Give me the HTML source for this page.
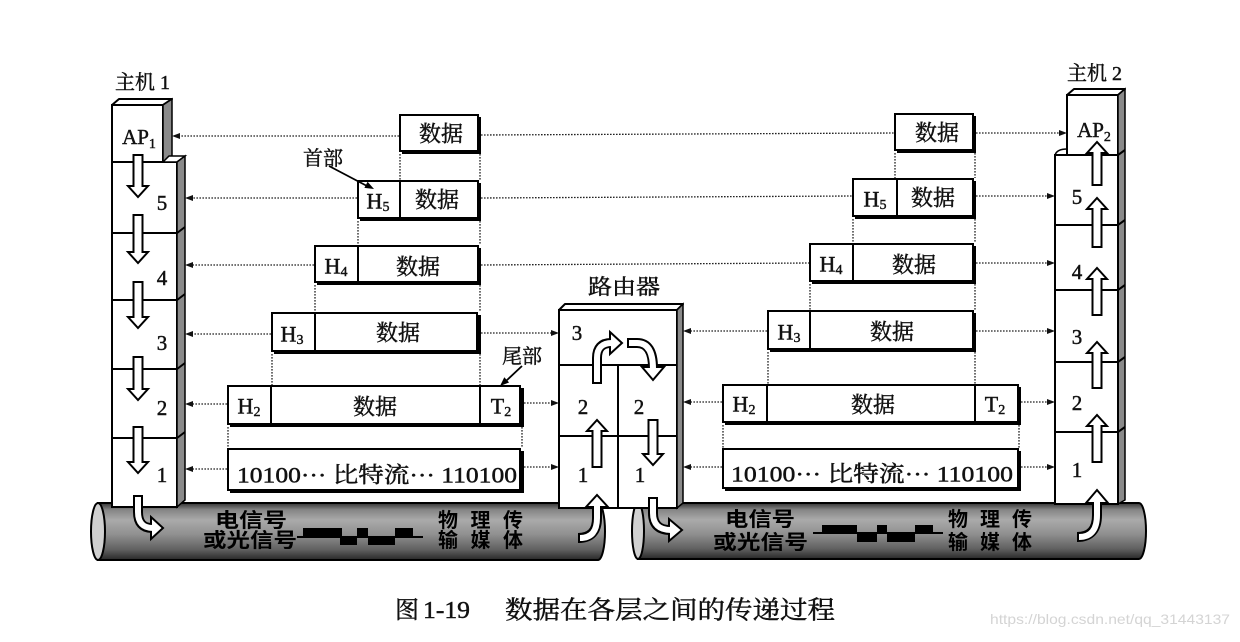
<!DOCTYPE html>
<html><head><meta charset="utf-8">
<style>
html,body{margin:0;padding:0;background:#fff;}
svg{display:block;}
text{font-family:"Liberation Serif","Noto Serif CJK SC",serif;fill:#111;stroke:#111;stroke-width:0.45;}
.cb{font-family:"Liberation Sans","Noto Sans CJK SC",sans-serif;font-weight:bold;fill:#000;stroke:none;}
</style></head><body>
<svg width="1240" height="642" viewBox="0 0 1240 642" xmlns="http://www.w3.org/2000/svg">
<defs>
<linearGradient id="cg" x1="0" y1="0" x2="0" y2="1">
<stop offset="0" stop-color="#333"/>
<stop offset="0.12" stop-color="#858585"/>
<stop offset="0.3" stop-color="#aaaaaa"/>
<stop offset="0.55" stop-color="#909090"/>
<stop offset="0.82" stop-color="#606060"/>
<stop offset="1" stop-color="#282828"/>
</linearGradient>
</defs>

<!-- cables -->
<path d="M98,503 L598,503 A7,28.5 0 0 1 598,560 L98,560 Z" fill="url(#cg)" stroke="#000" stroke-width="2"/>
<ellipse cx="98" cy="531.5" rx="7" ry="28.5" fill="#d0d0d0" stroke="#000" stroke-width="2"/>
<path d="M638,503 L1139,503 A7,28 0 0 1 1139,559 L638,559 Z" fill="url(#cg)" stroke="#000" stroke-width="2"/>
<ellipse cx="638" cy="531" rx="6" ry="28" fill="#d0d0d0" stroke="#000" stroke-width="2"/>

<text class="cb" x="215" y="521" font-size="20" dominant-baseline="central" textLength="72" lengthAdjust="spacingAndGlyphs">电信号</text>
<text class="cb" x="203" y="541" font-size="20" dominant-baseline="central" textLength="94" lengthAdjust="spacingAndGlyphs">或光信号</text>
<text class="cb" x="438" y="521" font-size="20" dominant-baseline="central" textLength="85" lengthAdjust="spacing">物理传</text>
<text class="cb" x="438" y="541" font-size="20" dominant-baseline="central" textLength="85" lengthAdjust="spacing">输媒体</text>
<text class="cb" x="725" y="520" font-size="20" dominant-baseline="central" textLength="70" lengthAdjust="spacingAndGlyphs">电信号</text>
<text class="cb" x="713" y="543" font-size="20" dominant-baseline="central" textLength="95" lengthAdjust="spacingAndGlyphs">或光信号</text>
<text class="cb" x="948" y="520" font-size="20" dominant-baseline="central" textLength="84" lengthAdjust="spacing">物理传</text>
<text class="cb" x="948" y="543" font-size="20" dominant-baseline="central" textLength="84" lengthAdjust="spacing">输媒体</text>

<!-- waveforms -->
<path d="M297,537H423 M813,533H943" stroke="#000" stroke-width="2"/>
<path d="M303,528h39v9h-39z M340,537h17v8h-17z M357,528h11v9h-11z M368,537h27v8h-27z M395,528h18v9h-18z M822,525h35v8h-35z M857,533h20v9h-20z M877,525h10v8h-10z M887,533h28v9h-28z M915,525h18v8h-18z" fill="#000"/>

<!-- HOST 1 -->
<text x="115" y="83" font-size="20" dominant-baseline="central">主机 1</text>
<rect x="112" y="105" width="51" height="57" fill="#fff" stroke="#000" stroke-width="2"/>
<polygon points="112,105 119,99 172,99 163,105" fill="#fff" stroke="#000" stroke-width="2" stroke-linejoin="round"/>
<polygon points="163,105 172,99 172,157 163,162" fill="#8a8a8a" stroke="#000" stroke-width="1.5"/>
<rect x="112" y="162" width="65" height="345" fill="#fff" stroke="#000" stroke-width="2"/>
<polygon points="163,162 169,156 185,156 177,162" fill="#fff" stroke="#000" stroke-width="1.5"/>
<polygon points="177,162 185,156 185,500 177,507" fill="#8a8a8a" stroke="#000" stroke-width="1.5"/>
<path d="M112,233H177l8,-6 M112,300H177l8,-6 M112,369H177l8,-6 M112,438H177l8,-6" fill="none" stroke="#000" stroke-width="2"/>
<text x="139" y="137" font-size="21" text-anchor="middle" dominant-baseline="central">AP<tspan font-size="14" dy="7">1</tspan></text>
<g font-size="21" text-anchor="middle" dominant-baseline="central">
<text x="162" y="203">5</text><text x="162" y="278">4</text><text x="162" y="343">3</text><text x="162" y="408">2</text><text x="162" y="475">1</text>
</g>

<!-- HOST 2 -->
<text x="1067" y="74" font-size="20" dominant-baseline="central">主机 2</text>
<rect x="1067" y="95" width="51" height="60" fill="#fff" stroke="#000" stroke-width="2"/>
<polygon points="1067,95 1074,89 1125,89 1118,95" fill="#fff" stroke="#000" stroke-width="2" stroke-linejoin="round"/>
<polygon points="1118,95 1125,89 1125,500 1118,504" fill="#8a8a8a" stroke="#000" stroke-width="1.5"/>
<rect x="1055" y="155" width="63" height="349" fill="#fff" stroke="#000" stroke-width="2"/>
<path d="M1055,155 Q1057,149 1067,149" fill="none" stroke="#000" stroke-width="1.5"/>
<path d="M1118,155l7,-5 M1055,225H1118l7,-5 M1055,290H1118l7,-5 M1055,362H1118l7,-5 M1055,432H1118l7,-5" fill="none" stroke="#000" stroke-width="2"/>
<text x="1094" y="130" font-size="21" text-anchor="middle" dominant-baseline="central">AP<tspan font-size="14" dy="7">2</tspan></text>
<g font-size="21" text-anchor="middle" dominant-baseline="central">
<text x="1077" y="197">5</text><text x="1077" y="272">4</text><text x="1077" y="337">3</text><text x="1077" y="403">2</text><text x="1077" y="470">1</text>
</g>

<!-- ROUTER -->
<text x="624" y="287" font-size="21" text-anchor="middle" dominant-baseline="central" textLength="72" lengthAdjust="spacingAndGlyphs">路由器</text>
<rect x="559" y="310" width="118" height="198" fill="#fff" stroke="#000" stroke-width="2"/>
<polygon points="559,310 565,304 683,304 677,310" fill="#fff" stroke="#000" stroke-width="2" stroke-linejoin="round"/>
<polygon points="677,310 683,304 683,503 677,508" fill="#8a8a8a" stroke="#000" stroke-width="1.5"/>
<path d="M559,365H677 M559,436H677 M618,365V508" fill="none" stroke="#000" stroke-width="2"/>
<g font-size="21" text-anchor="middle" dominant-baseline="central">
<text x="577" y="333">3</text><text x="583" y="407">2</text><text x="639" y="407">2</text><text x="583" y="475">1</text><text x="640" y="475">1</text>
</g>

<!-- straight hollow arrows -->
<path fill="#fff" stroke="#000" stroke-width="2" d="
M133.5,155h9v31h5.5l-10,11l-10,-11h5.5z
M133.5,215h9v37h5.5l-10,11l-10,-11h5.5z
M133.5,282h9v35h5.5l-10,11l-10,-11h5.5z
M133.5,357h9v32h5.5l-10,11l-10,-11h5.5z
M133.5,427h9v35h5.5l-10,11l-10,-11h5.5z
M648.5,420h9v34h5.5l-10,11l-10,-11h5.5z
M592.5,467h9v-36h5.5l-10,-11l-10,11h5.5z
M1092.5,185h9v-32h5.5l-10,-11l-10,11h5.5z
M1092.5,247h9v-38h5.5l-10,-11l-10,11h5.5z
M1092.5,315h9v-36h5.5l-10,-11l-10,11h5.5z
M1092.5,388h9v-35h5.5l-10,-11l-10,11h5.5z
M1092.5,462h9v-36h5.5l-10,-11l-10,11h5.5z"/>

<!-- curved hollow arrows: black outline stroke, head, white inner stroke -->
<path fill="none" stroke="#000" stroke-width="10" d="M138,495 L138,512 Q138,528 152,528 M1077,537 Q1097,537 1097,515 L1097,504 M597,384 L597,358 Q597,343 611,343 M627,343 L637,343 Q653,343 653,368 M578,538 Q597,538 597,518 L597,508 M653,497 L653,513 Q653,530 670,530"/>
<path fill="#fff" stroke="#000" stroke-width="2" d="M151,517L163,528L151,539z M1086,503L1097,490L1108,503z M610,332L622,343L610,354z M642,367L653,380L664,367z M586,507L597,495L608,507z M669,519L682,530L669,541z"/>
<path fill="none" stroke="#fff" stroke-width="6" d="M138,497 L138,512 Q138,528 153,528 M1079,537 Q1097,537 1097,515 L1097,502 M597,382 L597,358 Q597,343 612,343 M629,343 L637,343 Q653,343 653,369 M580,538 Q597,538 597,518 L597,506 M653,499 L653,513 Q653,530 671,530"/>

<!-- dotted connectors -->
<path fill="none" stroke="#222" stroke-width="1.3" stroke-dasharray="1.6 1.4" d="
M399,136H178 M357,198H190 M314,265H190 M271,334H190 M227,404H190 M227,469H190
M481,135L894,133 M481,198L852,196 M481,265L809,263
M481,333H553 M524,403H553 M524,467H553
M767,331H689 M722,402H689 M722,467H689
M976,133H1061 M976,196H1049 M976,263H1049 M976,331H1049 M1021,402H1049 M1021,467H1049
M400,154V180 M480,154V180 M480,221V245 M480,285V312 M480,354V385
M358,221V245 M315,285V312 M272,354V385 M228,427V448 M522,427V448
M895,153V178 M975,153V178 M975,219V243 M975,284V310 M975,352V384
M853,219V243 M810,284V310 M768,352V384 M723,425V448 M1019,425V448"/>
<path fill="#111" d="
M172,136l8,-3v6z M185,198l8,-3v6z M185,265l8,-3v6z M185,334l8,-3v6z M185,404l8,-3v6z M185,469l8,-3v6z
M559,333l-8,-3v6z M559,403l-8,-3v6z M559,467l-8,-3v6z
M683,331l8,-3v6z M683,402l8,-3v6z M683,467l8,-3v6z
M1067,133l-8,-3v6z M1055,196l-8,-3v6z M1055,263l-8,-3v6z M1055,331l-8,-3v6z M1055,402l-8,-3v6z M1055,467l-8,-3v6z"/>

<!-- packet boxes: shadows then faces -->
<path fill="#000" d="
M402,117h79v37h-79z M360,183h121v38h-121z M317,248h164v37h-164z M274,315h207v39h-207z M230,388h294v39h-294z M230,451h294v42h-294z
M897,116h79v37h-79z M855,181h121v38h-121z M812,246h164v38h-164z M770,313h206v39h-206z M725,387h296v38h-296z M725,451h296v40h-296z"/>
<path fill="#fff" stroke="#000" stroke-width="2" d="
M400,115h78v36h-78z M358,181h120v37h-120z M315,246h163v36h-163z M272,313h205v38h-205z M228,386h292v38h-292z M228,449h292v41h-292z
M895,114h78v36h-78z M853,179h120v37h-120z M810,244h163v37h-163z M768,311h205v38h-205z M723,385h295v37h-295z M723,449h295v39h-295z"/>
<path fill="none" stroke="#000" stroke-width="2" d="
M400,181V218 M358,246V282 M315,313V351 M271,386V424 M480,386V424
M897,179V216 M853,244V281 M810,311V349 M767,385V422 M975,385V422"/>

<g font-size="22" text-anchor="middle" dominant-baseline="central">
<text x="441" y="134">数据</text>
<text x="378" y="201">H<tspan font-size="14" dy="6">5</tspan></text>
<text x="437" y="200">数据</text>
<text x="336" y="266">H<tspan font-size="14" dy="6">4</tspan></text>
<text x="418" y="267">数据</text>
<text x="292" y="334">H<tspan font-size="14" dy="6">3</tspan></text>
<text x="398" y="333">数据</text>
<text x="249" y="406">H<tspan font-size="14" dy="6">2</tspan></text>
<text x="375" y="407">数据</text>
<text x="501" y="406">T<tspan font-size="14" dy="6">2</tspan></text>
<text x="377" y="475" textLength="280" lengthAdjust="spacingAndGlyphs">10100··· 比特流··· 110100</text>
<text x="937" y="133">数据</text>
<text x="875" y="199">H<tspan font-size="14" dy="6">5</tspan></text>
<text x="933" y="198">数据</text>
<text x="831" y="264">H<tspan font-size="14" dy="6">4</tspan></text>
<text x="914" y="265">数据</text>
<text x="789" y="332">H<tspan font-size="14" dy="6">3</tspan></text>
<text x="892" y="332">数据</text>
<text x="744" y="404">H<tspan font-size="14" dy="6">2</tspan></text>
<text x="873" y="405">数据</text>
<text x="995" y="404">T<tspan font-size="14" dy="6">2</tspan></text>
<text x="872" y="474" textLength="282" lengthAdjust="spacingAndGlyphs">10100··· 比特流··· 110100</text>
</g>

<!-- labels -->
<text x="303" y="159" font-size="20" dominant-baseline="central">首部</text>
<path d="M329,166L367,186 M522,366L506,381" stroke="#000" stroke-width="1.8" fill="none"/>
<path d="M374,189L364.4,187.9L367.6,181.7z M500,386L504.3,377.3L509.1,382.5z" fill="#000"/>
<text x="502" y="357" font-size="20" dominant-baseline="central">尾部</text>

<!-- caption -->
<text x="395" y="611" font-size="24" dominant-baseline="central">图</text>
<text x="423" y="611" font-size="24" dominant-baseline="central" textLength="47" lengthAdjust="spacingAndGlyphs">1-19</text>
<text x="505" y="611" font-size="25" dominant-baseline="central" textLength="330" lengthAdjust="spacingAndGlyphs">数据在各层之间的传递过程</text>
<text x="990" y="624" font-size="14" style="font-family:'Liberation Sans',sans-serif;fill:#d4d4d4;stroke:none" textLength="240" lengthAdjust="spacingAndGlyphs">https://blog.csdn.net/qq_31443137</text>
</svg>
</body></html>
